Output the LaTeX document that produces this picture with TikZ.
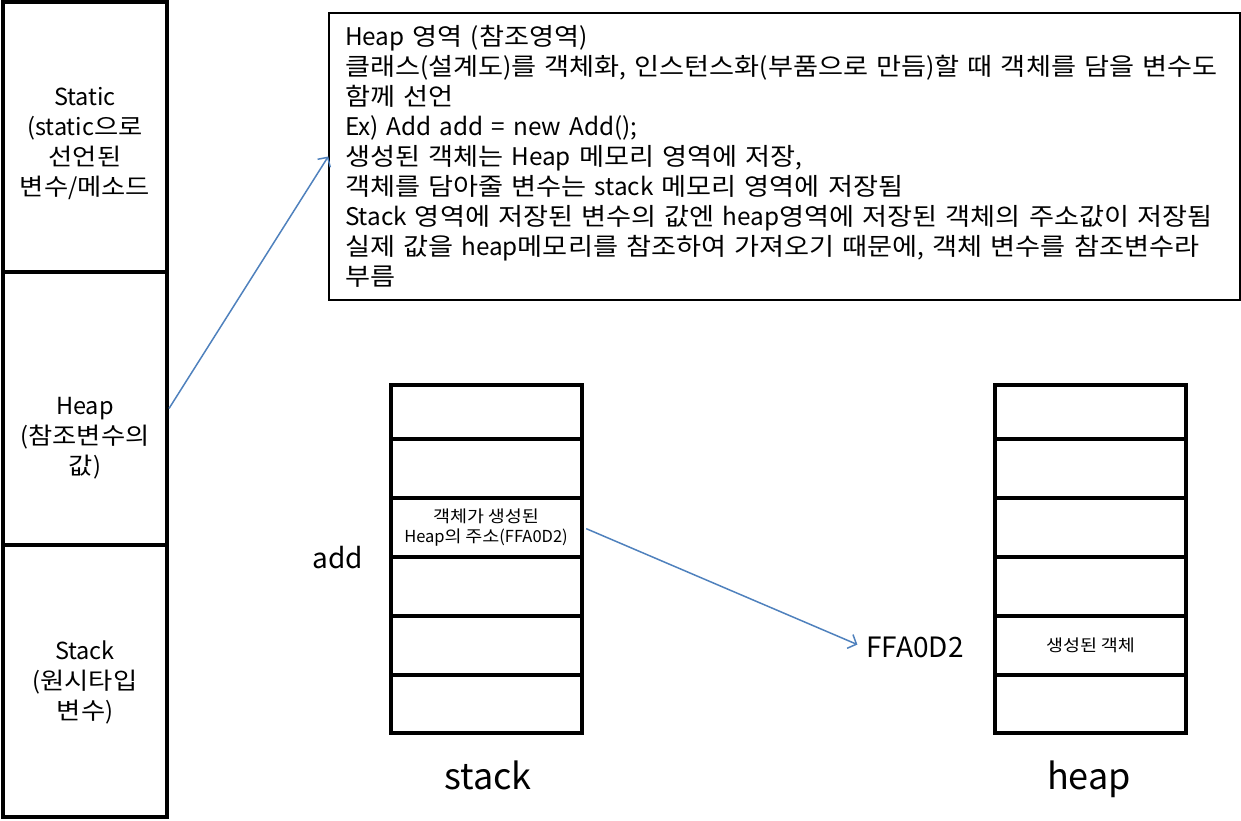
\documentclass[tikz,border=0pt]{standalone}
\usepackage{fontspec}
\setmainfont{Noto Sans CJK KR}
\newfontfamily\hgfont{Noto Sans CJK KR}[FakeStretch=1.12]
% hangul syllables a little wider than the latin letters
\XeTeXinterchartokenstate=1
\newXeTeXintercharclass\hgclass
\count255="AC00
\loop \XeTeXcharclass\count255=\hgclass \advance\count255 by 1 \ifnum\count255<"D7A4 \repeat
\XeTeXinterchartoks 0 \hgclass = {\hgfont}
\XeTeXinterchartoks 4095 \hgclass = {\hgfont}
\XeTeXinterchartoks \hgclass 0 = {\rmfamily}
\XeTeXinterchartoks \hgclass 4095 = {\rmfamily}
\usetikzlibrary{arrows.meta}
\definecolor{oblue}{RGB}{79,129,189}
\tikzset{
  memsec/.style={draw, line width=4pt, minimum width=164pt, inner sep=0pt},
  secttext/.style={align=center, font=\fontsize{23.5}{30}\selectfont},
  cell/.style={draw, line width=4pt, minimum width=191pt, inner sep=0pt},
  celltext/.style={align=center, font=\fontsize{16.5}{20}\selectfont},
  biglbl/.style={anchor=base, font=\fontsize{28}{34}\selectfont},
  link/.style={draw=oblue, line width=1.5pt, -{Straight Barb[length=7pt,width=15pt]}},
}

\begin{document}
\begin{tikzpicture}[x=1pt,y=-1pt]
  \useasboundingbox (0,0) rectangle (1241,821);
  % memory areas on the left
  \foreach \nm/\t/\b in {statsec/2/272, heapsec/272/545, stacksec/545/817}
    \node[memsec, minimum height={(\b-\t)*1pt}] (\nm) at (85,{(\t+\b)/2}) {};
  \node[secttext] (statname) at (85,143) {Static\\(static으로\\선언된\\변수/메소드};
  \node[secttext] (heapname) at (85,438) {Heap\\(참조변수의\\값)};
  \node[secttext] (stackname) at (85,682) {Stack\\(원시타입\\변수)};
  % note box
  \node[draw, line width=1.5pt, minimum width=911pt, minimum height=287pt,
        inner xsep=16pt, text width=879pt, align=left,
        font=\fontsize{24.3}{30}\selectfont] (memo) at (784.5,156.5)
    {Heap 영역 (참조영역)\\
     클래스(설계도)를 객체화, 인스턴스화(부품으로 만듬)할 때 객체를 담을 변수도\\
     함께 선언\\
     Ex) Add add = new Add();\\
     생성된 객체는 Heap 메모리 영역에 저장,\\
     객체를 담아줄 변수는 stack 메모리 영역에 저장됨\\
     Stack 영역에 저장된 변수의 값엔 heap영역에 저장된 객체의 주소값이 저장됨\\
     실제 값을 heap메모리를 참조하여 가져오기 때문에, 객체 변수를 참조변수라\\
     부름};
  % stack and heap cells
  \foreach \t/\b [count=\i] in {385/439,439/498,498/557,557/616,616/675,675/733} {
    \node[cell, minimum height={(\b-\t)*1pt}] (s\i) at (486,{(\t+\b)/2}) {};
    \node[cell, minimum height={(\b-\t)*1pt}] (h\i) at (1090.5,{(\t+\b)/2}) {};
  }
  \node[celltext] (s3txt) at (s3) {객체가 생성된\\Heap의 주소(FFA0D2)};
  \node[celltext] (h5txt) at (h5) {생성된 객체};
  \node[biglbl] (addlbl) at (338,568) {add};
  \node[biglbl] (addr) at (915,657) {FFA0D2};
  \node[biglbl, font=\fontsize{36}{40}\selectfont] (stackcap) at (488,789) {stack};
  \node[biglbl, font=\fontsize{36}{40}\selectfont] (heapcap) at (1089,789) {heap};
  % arrows
  \draw[link] (heapsec.east) -- (memo.west);
  \draw[link, shorten <=3pt, shorten >=6pt] (s3.east) -- (addr.west);
\end{tikzpicture}
\end{document}
